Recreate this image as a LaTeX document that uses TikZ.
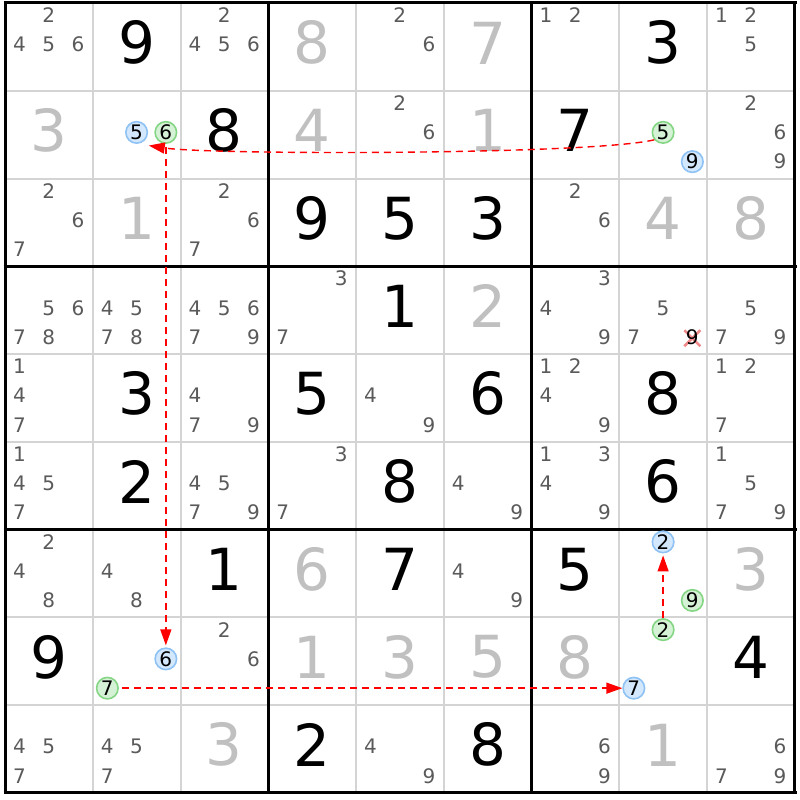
\documentclass[tikz,border=0pt]{standalone}
\usepackage{fontspec}
\setmainfont{DejaVu Sans}
\usetikzlibrary{arrows.meta}
\definecolor{gridgray}{HTML}{D4D4D4}
\definecolor{solvedgray}{HTML}{C0C0C0}
\definecolor{candgray}{HTML}{5A5A5A}
\definecolor{ringblue}{HTML}{8EC2F4}
\definecolor{fillblue}{HTML}{D3E8FC}
\definecolor{ringgreen}{HTML}{84D684}
\definecolor{fillgreen}{HTML}{D6F2D6}
\definecolor{crosspink}{HTML}{F08A8A}

\begin{document}
\begin{tikzpicture}[x=1pt,y=-1pt,
    declare function={cx(\col,\num)=19.6+87.75*(\col-1)+29.25*mod(\num-1,3);
      cy(\row,\num)=15.4+87.75*(\row-1)+29.25*floor((\num-1)/3);
      gx(\col)=5+87.75*(\col-0.5); gy(\row)=-1+87.75*(\row-0.5);},
    given/.style={inner sep=0pt,font=\fontsize{58}{58}\selectfont,text=black},
    solved/.style={given,text=solvedgray},
    cand/.style={inner sep=0pt,font=\fontsize{20}{20}\selectfont,text=candgray},
    ring/.style={circle,inner sep=0pt,minimum size=21.5pt,line width=1.6pt,
      font=\fontsize{20}{20}\selectfont,text=black},
    bluering/.style={ring,draw=ringblue,fill=fillblue},
    greenring/.style={ring,draw=ringgreen,fill=fillgreen},
    link/.style={red,line width=1.4pt,dash pattern=on 7pt off 5pt,
      -{Triangle[length=16pt,width=11pt]}}]
    \fill[white] (0,0) rectangle (800,800) ;
    \useasboundingbox (0,0) rectangle (800,800) ;
    \foreach \i in {1,...,8} {
      \draw[gridgray,line width=2pt] ({5+87.75*\i},3) -- ({5+87.75*\i},792.75) ;
      \draw[gridgray,line width=2pt] (5,{3+87.75*\i}) -- (795,{3+87.75*\i}) ;
    }
    \foreach \i in {0,3,6,9} {
      \draw[black,line width=3pt] ({5+87.75*\i},1.5) -- ({5+87.75*\i},794.25) ;
      \draw[black,line width=3pt] (3.5,{3+87.75*\i}) -- (796.5,{3+87.75*\i}) ;
    }
    \foreach \r/\c/\d in {1/2/9,1/8/3,2/3/8,2/7/7,3/4/9,3/5/5,3/6/3,4/5/1,5/2/3,5/4/5,5/6/6,
      5/8/8,6/2/2,6/5/8,6/8/6,7/3/1,7/5/7,7/7/5,8/1/9,8/9/4,9/4/2,9/6/8}
      \node[given] (g\r\c) at ({gx(\c)},{gy(\r)}) {\d} ;
    \foreach \r/\c/\d in {1/4/8,1/6/7,2/1/3,2/4/4,2/6/1,3/2/1,3/8/4,3/9/8,4/6/2,7/4/6,
      7/9/3,8/4/1,8/5/3,8/6/5,8/7/8,9/3/3,9/8/1}
      \node[solved] (s\r\c) at ({gx(\c)},{gy(\r)}) {\d} ;
    \foreach \r/\c/\list in {1/1/{2,4,5,6},1/3/{2,4,5,6},1/5/{2,6},1/7/{1,2},1/9/{1,2,5},
      2/5/{2,6},2/9/{2,6,9},3/1/{2,6,7},3/3/{2,6,7},3/7/{2,6},
      4/1/{5,6,7,8},4/2/{4,5,7,8},4/3/{4,5,6,7,9},4/4/{3,7},4/7/{3,4,9},4/8/{5,7},4/9/{5,7,9},
      5/1/{1,4,7},5/3/{4,7,9},5/5/{4,9},5/7/{1,2,4,9},5/9/{1,2,7},
      6/1/{1,4,5,7},6/3/{4,5,7,9},6/4/{3,7},6/6/{4,9},6/7/{1,3,4,9},6/9/{1,5,7,9},
      7/1/{2,4,8},7/2/{4,8},7/6/{4,9},8/3/{2,6},
      9/1/{4,5,7},9/2/{4,5,7},9/5/{4,9},9/7/{6,9},9/9/{6,7,9}}
      \foreach \n in \list
        \node[cand] (k\r\c\n) at ({cx(\c,\n)},{cy(\r,\n)}) {\n} ;
    \draw[crosspink,line width=2.5pt] ({cx(8,9)-8},{cy(4,9)-7}) -- ({cx(8,9)+8},{cy(4,9)+9})
      ({cx(8,9)-8},{cy(4,9)+9}) -- ({cx(8,9)+8},{cy(4,9)-7}) ;
    \node[cand,text=black] (k489) at ({cx(8,9)},{cy(4,9)}) {9} ;
    \node[bluering] (c22n5) at ({cx(2,5)},{cy(2,5)}) {5} ;
    \node[greenring] (c22n6) at ({cx(2,6)},{cy(2,6)}) {6} ;
    \node[greenring] (c28n5) at ({cx(8,5)},{cy(2,5)}) {5} ;
    \node[bluering] (c28n9) at ({cx(8,9)},{cy(2,9)}) {9} ;
    \node[bluering] (c78n2) at ({cx(8,2)},{cy(7,2)}) {2} ;
    \node[greenring] (c78n9) at ({cx(8,9)},{cy(7,9)}) {9} ;
    \node[bluering] (c82n6) at ({cx(2,6)},{cy(8,6)}) {6} ;
    \node[greenring] (c82n7) at ({cx(2,7)},{cy(8,7)}) {7} ;
    \node[greenring] (c88n2) at ({cx(8,2)},{cy(8,2)}) {2} ;
    \node[bluering] (c88n7) at ({cx(8,7)},{cy(8,7)}) {7} ;
    \draw[link] (c28n5.-140) .. controls (590,155) and (210,155) .. ([shift={(4,5)}]c22n5.south east) ;
    \draw[link,shorten <=3pt,shorten >=2pt] (c22n6) -- (c82n6) ;
    \draw[link,shorten <=3pt] (c82n7) -- (c88n7) ;
    \draw[link,shorten >=2pt] (c88n2) -- (c78n2) ;
  \end{tikzpicture}
\end{document}
